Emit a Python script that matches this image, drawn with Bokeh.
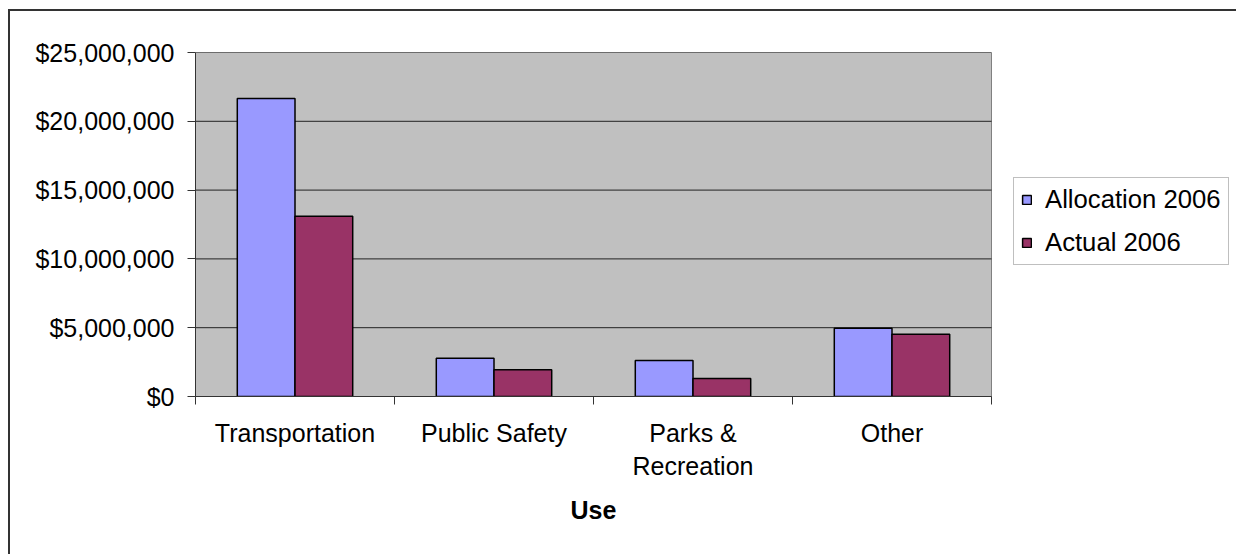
import numpy as np
from bokeh.plotting import figure
from bokeh.models import (ColumnDataSource, Range1d, FixedTicker, NumeralTickFormatter,
                          Legend, LegendItem, Title)
from bokeh.embed import file_html
from bokeh.resources import INLINE

# Data
categories = ["Transportation", "Public Safety", "Parks &\nRecreation", "Other"]
allocation_2006 = [21_650_000, 2_780_000, 2_620_000, 4_960_000]
actual_2006 = [13_100_000, 1_940_000, 1_310_000, 4_530_000]
y_ticks = [0, 5_000_000, 10_000_000, 15_000_000, 20_000_000, 25_000_000]

FONT = "Liberation Sans"
BAR_W = 0.29
W, H = 1236, 554
LEFT, TOP, BOTTOM = 195, 52, 158
PLOT_RIGHT = 991          # right edge of the grey plot area, in pixels

n = len(categories)
centers = np.arange(n) + 0.5
src = ColumnDataSource(dict(
    x_alloc=centers - BAR_W / 2,
    x_act=centers + BAR_W / 2,
    alloc=allocation_2006,
    act=actual_2006,
))

# the frame runs to the right edge so the legend can sit beside the plot area
frame_w = W - LEFT
x_end = n * frame_w / (PLOT_RIGHT - LEFT)
p = figure(width=W, height=H, output_backend="svg", toolbar_location=None,
           x_range=Range1d(0, x_end), y_range=Range1d(y_ticks[0], y_ticks[-1]),
           min_border_left=LEFT, min_border_right=0, min_border_top=TOP,
           min_border_bottom=BOTTOM)

p.background_fill_color = "white"
p.border_fill_color = "white"
p.outline_line_color = None
p.xgrid.visible = False
p.ygrid.visible = False

# grey plot area with its border
p.quad(left=0, right=n, bottom=y_ticks[0], top=y_ticks[-1],
       fill_color="#C0C0C0", line_color="#808080", line_width=1)
# horizontal gridlines
p.segment(x0=[0] * len(y_ticks), x1=[n] * len(y_ticks), y0=y_ticks, y1=y_ticks,
          line_color="#222222", line_width=1)

# bars
r_alloc = p.vbar(x="x_alloc", top="alloc", width=BAR_W, source=src,
                 fill_color="#9999FF", line_color="black", line_width=1.5)
r_act = p.vbar(x="x_act", top="act", width=BAR_W, source=src,
               fill_color="#993366", line_color="black", line_width=1.5)

# y axis
yax = p.yaxis[0]
yax.ticker = FixedTicker(ticks=y_ticks, minor_ticks=[])
yax.formatter = NumeralTickFormatter(format="$0,0")
yax.major_label_text_font = FONT
yax.major_label_text_font_size = "25px"
yax.major_label_text_color = "black"
yax.major_tick_in = 0
yax.major_tick_out = 8
yax.major_tick_line_color = "#333333"
yax.axis_line_color = "#333333"
yax.major_label_standoff = 13

# x axis: separators between categories, names at the centres
xax = p.xaxis[0]
xax.bounds = (0, n)
xax.ticker = FixedTicker(ticks=list(centers), minor_ticks=list(range(n + 1)))
xax.major_label_overrides = {float(c): name for c, name in zip(centers, categories)}
xax.major_tick_in = 0
xax.major_tick_out = 0
xax.minor_tick_in = 0
xax.minor_tick_out = 8
xax.minor_tick_line_color = "#333333"
xax.axis_line_color = "#333333"
xax.major_label_text_font = FONT
xax.major_label_text_font_size = "25px"
xax.major_label_text_color = "black"
xax.major_label_text_line_height = 1.18
xax.major_label_standoff = 14

# axis title, centred under the grey plot area
title_w = 46               # approximate width of the bold "Use" at 25px
plot_mid = (PLOT_RIGHT - LEFT) / 2
p.add_layout(Title(text="Use", align="left", offset=plot_mid - title_w / 2,
                   text_font=FONT, text_font_size="25px", text_font_style="bold",
                   text_color="black", standoff=23), "below")

legend = Legend(items=[LegendItem(label="Allocation 2006", renderers=[r_alloc]),
                       LegendItem(label="Actual 2006", renderers=[r_act])],
                location=(818, 131))
legend.label_text_font = FONT
legend.label_text_font_size = "25.7px"
legend.label_text_color = "black"
legend.glyph_width = 11
legend.glyph_height = 11
legend.label_standoff = 13
legend.padding = 7
legend.spacing = 14
legend.label_height = 28
legend.border_line_color = "#808080"
legend.border_line_width = 1
legend.background_fill_color = "white"
legend.background_fill_alpha = 1
legend.margin = 0
p.add_layout(legend)

# frame round the whole chart area
p.stylesheets = [
    ":host { overflow: hidden; }"
    ":host::after { content: ''; position: absolute; left: 8px; top: 9px;"
    " width: 1400px; height: 800px; border: 2px solid #333333;"
    " box-sizing: border-box; pointer-events: none; }"
]

open("out.html", "w").write(file_html(p, INLINE))
